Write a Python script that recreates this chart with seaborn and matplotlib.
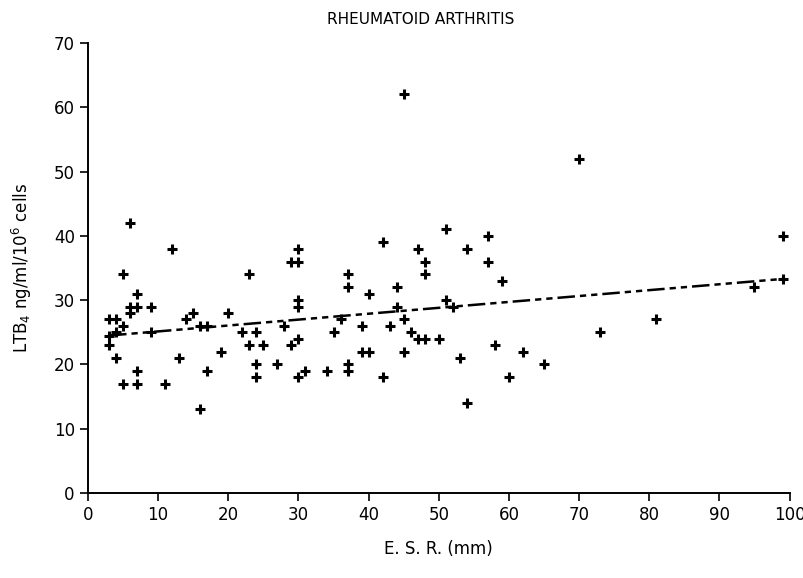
import numpy as np
import pandas as pd
import seaborn as sns
import matplotlib.pyplot as plt

# valores (E.S.R. em mm, LTB4 ng/ml/10^6 cells)
esr = [3, 4, 3, 4, 3, 4, 5, 5, 5, 6, 6, 6, 7, 7, 7, 7, 9, 9, 11, 12,
       13, 14, 15, 16, 17, 16, 17, 19, 20, 22, 23, 23, 24, 24, 24, 25, 27, 28, 29, 30,
       30, 29, 30, 30, 30, 30, 31, 34, 35, 36, 37, 37, 37, 37, 39, 39, 40, 40, 42, 42,
       43, 44, 44, 45, 45, 45, 46, 47, 47, 48, 48, 48, 50, 51, 51, 52, 53, 54, 54, 57,
       57, 58, 59, 60, 62, 65, 70, 73, 81, 95, 99, 99]
ltb4 = [27, 27, 24.5, 25, 23, 21, 34, 26, 17, 42, 29, 28, 31, 29, 19, 17, 29, 25, 17, 38,
        21, 27, 28, 26, 26, 13, 19, 22, 28, 25, 34, 23, 25, 20, 18, 23, 20, 26, 36, 36,
        38, 23, 30, 29, 24, 18, 19, 19, 25, 27, 34, 32, 20, 19, 26, 22, 22, 31, 39, 18,
        26, 32, 29, 27, 22, 62, 25, 38, 24, 24, 36, 34, 24, 41, 30, 29, 21, 38, 14, 40,
        36, 23, 33, 18, 22, 20, 52, 25, 27, 32, 40, 33.3]

# reta de regressao tracejada (extremos)
fit_x = [3, 99]
fit_y = [24.5, 33.3]

df = pd.DataFrame({'esr': esr, 'ltb4': ltb4})
fit = pd.DataFrame({'x': fit_x, 'y': fit_y})

sns.set_style('ticks')
plt.rcParams['font.family'] = ['DejaVu Sans']
plt.rcParams['text.color'] = 'black'
plt.rcParams['axes.labelcolor'] = 'black'

fig = plt.figure(figsize=(8.04, 5.78), dpi=100)
ax = fig.add_axes([0.1095, 0.147, 0.8725, 0.7786])

sns.lineplot(data=fit, x='x', y='y', ax=ax, color='black', linewidth=1.8,
             dashes=False, linestyle=(0, (7, 2, 2.5, 2, 2.5, 2)))
sns.scatterplot(data=df, x='esr', y='ltb4', ax=ax, marker='+', s=50,
                color='black', linewidth=2.2, zorder=3)

ax.set_xlim(0, 100)
ax.set_ylim(0, 70)
ax.set_xticks(range(0, 101, 10))
ax.set_yticks(range(0, 71, 10))
ax.tick_params(direction='out', length=6, width=1.2, labelsize=12, colors='black')
for s in ['left', 'bottom']:
    ax.spines[s].set_linewidth(1.4)
    ax.spines[s].set_color('black')
sns.despine(ax=ax)

ax.set_xlabel('E. S. R. (mm)', fontsize=12, labelpad=11)
ax.set_ylabel('LTB$_4$ ng/ml/10$^6$ cells', fontsize=12, labelpad=14)
fig.text(0.523, 0.966, 'RHEUMATOID ARTHRITIS', ha='center', va='center', fontsize=11)

fig.savefig('out.png', dpi=100)
